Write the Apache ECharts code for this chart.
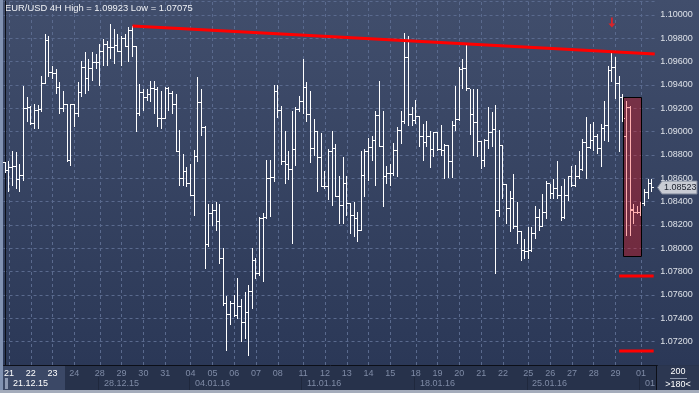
<!DOCTYPE html>
<html><head><meta charset="utf-8">
<script src="https://cdn.jsdelivr.net/npm/echarts@6/dist/echarts.min.js"></script>
<style>html,body{margin:0;padding:0;background:#2e3a56;}#c{width:699px;height:393px;}
#err{position:absolute;left:20px;top:40px;color:#ff0;font:11px monospace;white-space:pre-wrap;max-width:600px;}</style>
</head><body><div id="c"></div><div id="err"></div>
<script>
window.onerror = function (m, s, l, c, e) { document.getElementById('err').textContent += m + ' @' + l + ':' + c + '\n'; };
</script>
<script>
// ---- data: EUR/USD 4H bars (index 0 = Sunday 20.12.15 bar) ----
const openP = [
1.08737,1.08666,1.08695,1.08700,1.08586,1.08623,1.09200,1.09209,1.09066,1.09180,
1.09189,1.09415,1.09780,1.09509,1.09500,1.09380,1.09195,1.09229,1.08752,1.09229,
1.09157,1.09332,1.09552,1.09457,1.09543,1.09595,1.09590,1.09686,1.09743,1.09723,
1.09720,1.09737,1.09686,1.09800,1.09732,1.09866,1.09732,1.09152,1.09337,1.09295,
1.09315,1.09366,1.09360,1.09115,1.09110,1.09366,1.09329,1.09229,1.08832,1.08595,
1.08657,1.08557,1.08455,1.08789,1.09246,1.09037,1.08037,1.08300,1.08323,1.08232,
1.07909,1.07523,1.07437,1.07523,1.07423,1.07503,1.07366,1.07446,1.07632,1.07895,
1.07786,1.08252,1.08266,1.08595,1.08603,1.09346,1.09180,1.08743,1.08720,1.08672,
1.08843,1.09189,1.09260,1.09380,1.09143,1.08852,1.09000,1.08780,1.08526,1.08532,
1.08829,1.08852,1.08440,1.08366,1.08552,1.08380,1.08280,1.08252,1.08157,1.08623,
1.08829,1.08866,1.08923,1.09137,1.08870,1.08615,1.08643,1.08640,1.08837,1.09009,
1.09089,1.09637,1.09143,1.09095,1.09129,1.08957,1.08909,1.08957,1.08846,1.08989,
1.08843,1.08840,1.08880,1.08746,1.09052,1.09103,1.09537,1.09540,1.09366,1.09146,
1.09075,1.08917,1.08752,1.08923,1.08989,1.09017,1.08323,1.08880,1.08546,1.08343,
1.08423,1.08189,1.08146,1.07980,1.07975,1.07980,1.08123,1.08266,1.08189,1.08309,
1.08552,1.08466,1.08515,1.08457,1.08266,1.08457,1.08617,1.08537,1.08617,1.08672,
1.08903,1.08866,1.08923,1.08960,1.08852,1.09029,1.09057,1.09523,1.09552,1.09409,
1.09297,1.08955,1.09209,1.08323,1.08309,1.08303,1.08380,1.08475,1.08552];
const highP = [
1.08743,1.08752,1.08837,1.08823,1.08723,1.09395,1.09295,1.09217,1.09237,1.09229,
1.09480,1.09837,1.09823,1.09566,1.09537,1.09423,1.09352,1.09237,1.09237,1.09237,
1.09423,1.09609,1.09680,1.09623,1.09680,1.09666,1.09752,1.09795,1.09780,1.09923,
1.09880,1.09837,1.09823,1.09837,1.09895,1.09909,1.09737,1.09409,1.09366,1.09366,
1.09437,1.09437,1.09380,1.09352,1.09380,1.09380,1.09352,1.09323,1.09015,1.08809,
1.08695,1.08723,1.08846,1.09466,1.09366,1.09052,1.08380,1.08380,1.08395,1.08380,
1.08000,1.07595,1.07546,1.07603,1.07746,1.07566,1.07623,1.07686,1.08000,1.07915,
1.08266,1.08303,1.08760,1.08760,1.09400,1.09400,1.09223,1.09009,1.08837,1.09180,
1.09209,1.09303,1.09623,1.09423,1.09346,1.09109,1.09009,1.08989,1.08666,1.08852,
1.09003,1.08895,1.08623,1.08780,1.08623,1.08385,1.08395,1.08309,1.08837,1.08852,
1.08943,1.08966,1.09180,1.09432,1.09175,1.08709,1.08723,1.08900,1.09043,1.09175,
1.09843,1.09823,1.09209,1.09272,1.09135,1.09066,1.09095,1.09009,1.08995,1.08995,
1.09057,1.08895,1.08885,1.09095,1.09395,1.09557,1.09623,1.09752,1.09370,1.09366,
1.09366,1.08920,1.08937,1.09209,1.09166,1.09229,1.09017,1.08885,1.08550,1.08495,
1.08637,1.08395,1.08152,1.08080,1.08180,1.08180,1.08366,1.08337,1.08466,1.08580,
1.08555,1.08595,1.08752,1.08537,1.08595,1.08623,1.08709,1.08715,1.08837,1.08937,
1.09123,1.09066,1.09080,1.08980,1.09066,1.09266,1.09566,1.09680,1.09640,1.09477,
1.09323,1.09263,1.09220,1.08380,1.08366,1.08395,1.08509,1.08595,1.08595];
const lowP = [
1.08646,1.08486,1.08537,1.08509,1.08486,1.08580,1.09080,1.09057,1.09023,1.09023,
1.09166,1.09409,1.09466,1.09452,1.09323,1.09152,1.09166,1.08737,1.08709,1.09037,
1.09123,1.09295,1.09323,1.09352,1.09437,1.09537,1.09395,1.09566,1.09566,1.09623,
1.09580,1.09680,1.09566,1.09723,1.09595,1.09637,1.08995,1.09137,1.09180,1.09266,
1.09252,1.09152,1.09037,1.09023,1.09105,1.09180,1.09152,1.08823,1.08537,1.08537,
1.08523,1.08452,1.08275,1.08737,1.08966,1.07823,1.08009,1.08195,1.08152,1.07866,
1.07509,1.07123,1.07346,1.07409,1.07395,1.07200,1.07223,1.07075,1.07480,1.07737,
1.07766,1.07715,1.08252,1.08266,1.08566,1.09115,1.08715,1.08552,1.08589,1.08037,
1.08709,1.09166,1.09152,1.09080,1.08732,1.08795,1.08480,1.08523,1.08509,1.08415,
1.08366,1.08437,1.08209,1.08209,1.08280,1.08123,1.08095,1.08052,1.08152,1.08437,
1.08580,1.08752,1.08537,1.08866,1.08352,1.08552,1.08537,1.08623,1.08609,1.08895,
1.09066,1.09052,1.09052,1.09066,1.08866,1.08746,1.08866,1.08689,1.08780,1.08837,
1.08795,1.08595,1.08603,1.08603,1.09009,1.09095,1.09366,1.09352,1.08972,1.08795,
1.08780,1.08680,1.08695,1.08852,1.08872,1.07780,1.08266,1.08423,1.08209,1.08137,
1.08166,1.08037,1.07895,1.07909,1.07909,1.07966,1.08080,1.08152,1.08180,1.08252,
1.08423,1.08423,1.08423,1.08237,1.08252,1.08409,1.08523,1.08523,1.08595,1.08666,
1.08595,1.08852,1.08837,1.08809,1.08695,1.08923,1.08909,1.09423,1.09280,1.08826,
1.09080,1.08109,1.08106,1.08209,1.08292,1.08280,1.08363,1.08423,1.08480];
const closeP = [
1.08666,1.08695,1.08700,1.08586,1.08623,1.09200,1.09209,1.09066,1.09180,1.09189,
1.09415,1.09780,1.09509,1.09500,1.09380,1.09195,1.09229,1.08752,1.09229,1.09157,
1.09332,1.09552,1.09457,1.09543,1.09595,1.09590,1.09686,1.09743,1.09723,1.09720,
1.09737,1.09686,1.09800,1.09732,1.09866,1.09732,1.09152,1.09337,1.09295,1.09315,
1.09366,1.09360,1.09115,1.09110,1.09366,1.09329,1.09229,1.08832,1.08595,1.08657,
1.08557,1.08455,1.08789,1.09246,1.09037,1.08037,1.08300,1.08323,1.08232,1.07909,
1.07523,1.07437,1.07523,1.07423,1.07503,1.07366,1.07446,1.07632,1.07895,1.07786,
1.08252,1.08266,1.08595,1.08603,1.09346,1.09180,1.08743,1.08720,1.08672,1.08843,
1.09189,1.09260,1.09380,1.09143,1.08852,1.09000,1.08780,1.08526,1.08532,1.08829,
1.08852,1.08440,1.08366,1.08552,1.08380,1.08280,1.08252,1.08157,1.08623,1.08829,
1.08866,1.08923,1.09137,1.08870,1.08615,1.08643,1.08640,1.08837,1.09009,1.09089,
1.09637,1.09143,1.09095,1.09129,1.08957,1.08909,1.08957,1.08846,1.08989,1.08843,
1.08840,1.08880,1.08746,1.09052,1.09103,1.09537,1.09540,1.09366,1.09146,1.09075,
1.08917,1.08752,1.08923,1.08989,1.09017,1.08323,1.08880,1.08546,1.08343,1.08423,
1.08189,1.08146,1.07980,1.07975,1.07980,1.08123,1.08266,1.08189,1.08309,1.08552,
1.08466,1.08515,1.08457,1.08266,1.08457,1.08617,1.08537,1.08617,1.08672,1.08903,
1.08866,1.08923,1.08960,1.08852,1.09029,1.09057,1.09523,1.09552,1.09409,1.09297,
1.09115,1.09209,1.08337,1.08309,1.08303,1.08380,1.08475,1.08552,1.08523];

const barSlots = 180;          // visible bar slots (">180<")
const loadedBars = 200;        // "200"
const dayStart = [1,7,13,19,26,32,38,44,51,57,63,69,75,82,88,94,100,106,113,119,125,131,137,144,150,156,162,168,175];
const dayName  = ['21','22','23','24','28','29','30','31','04','05','06','07','08','11','12','13','14','15','18','19','20','21','22','25','26','27','28','29','01'];
const weekStart = [1,26,51,82,113,144,175];
const weekName  = ['21.12.15','28.12.15','04.01.16','11.01.16','18.01.16','25.01.16','01'];
const brightLabelsBefore = 17;

// annotations (bar index, price)
const trendLine = [[35, 1.09906], [178.8, 1.09666]];
const targetLevels = [1.07763, 1.07120];
const targetSpan = [169, 178.5];
const zoneBox = [[170.1, 1.09297], [175.1, 1.07934]];
const signalArrow = [167, 1.09936];
const yTicks = {min: 1.070, max: 1.1012, step: 0.002};

// ---- build ----
const FONT = '"Liberation Sans", Arial, sans-serif';
const GRAY = '#7f8ba6';
const GRIDC = '#5a6a8e';
const bars = openP.map((o, k) => [k, o, highP[k], lowP[k], closeP[k]]);
const dayCats = [];
for (let k = 0; k < barSlots; k++) {
  const di = dayStart.indexOf(k);
  dayCats.push(di >= 0 ? {value: dayName[di], textStyle: {color: k < brightLabelsBefore ? '#ffffff' : GRAY}} : '');
}
const hiVal = Math.max(...highP), loVal = Math.min(...lowP);
const titleText = 'EUR/USD 4H High = ' + hiVal.toFixed(5) + ' Low = ' + loVal.toFixed(5);

function renderOHLC(params, api) {
  const k = api.value(0);
  const pO = api.coord([k, api.value(1)]);
  const pH = api.coord([k, api.value(2)]);
  const pL = api.coord([k, api.value(3)]);
  const pC = api.coord([k, api.value(4)]);
  const x = Math.round(pH[0] - 0.5);
  const yH = Math.round(pH[1]), yL = Math.round(pL[1]);
  const yO = Math.round(pO[1] - 0.5), yC = Math.round(pC[1] - 0.5);
  const st = {fill: '#ffffff'};
  return {type: 'group', children: [
    {type: 'rect', shape: {x: x, y: yH, width: 1, height: Math.max(1, yL - yH)}, style: st},
    {type: 'rect', shape: {x: x - 2, y: yO, width: 2, height: 1}, style: st},
    {type: 'rect', shape: {x: x + 1, y: yC, width: 2, height: 1}, style: st}
  ]};
}
function renderBox(params, api) {
  const a = api.coord([api.value(0), api.value(1)]);
  const b = api.coord([api.value(2), api.value(3)]);
  const x = Math.round(a[0]) + 0.5, y = Math.round(a[1]) + 0.5;
  const w = Math.round(b[0]) - Math.round(a[0]), h = Math.round(b[1]) - Math.round(a[1]);
  return {type: 'rect', shape: {x: x, y: y, width: w, height: h},
          style: {fill: 'rgba(255,0,0,0.31)', stroke: '#000000', lineWidth: 1}};
}

const chart = echarts.init(document.getElementById('c'), null, {renderer: 'canvas', devicePixelRatio: 1});
const gridDash = {color: GRIDC, width: 1, type: [3, 3]};
const bg = new echarts.graphic.LinearGradient(0, 0, 0, 1, [
  {offset: 0, color: '#414e6c'}, {offset: 0.928, color: '#2b3857'},
  {offset: 0.9288, color: '#27324b'}, {offset: 1, color: '#27324b'}]);

chart.setOption({
  animation: false,
  backgroundColor: bg,
  textStyle: {fontFamily: FONT},
  grid: {left: 3.55, right: 41.7, top: 1, bottom: 28, containLabel: false, outerBoundsMode: 'none'},
  xAxis: [
    {type: 'category', data: dayCats, boundaryGap: true, position: 'bottom',
     axisLine: {show: true, lineStyle: {color: '#0c0f18', width: 1}},
     axisTick: {show: false},
     axisLabel: {interval: 0, fontSize: 9, fontFamily: FONT, margin: 4, color: GRAY},
     splitLine: {show: false}},
    {type: 'value', min: -0.5, max: barSlots - 0.5, show: false}
  ],
  yAxis: {type: 'value', position: 'right', min: yTicks.min, max: yTicks.max, interval: yTicks.step,
    axisLine: {show: true, lineStyle: {color: '#0c0f18', width: 1}},
    axisTick: {show: false},
    axisLabel: {color: '#dde1e8', fontSize: 9, fontFamily: FONT, margin: 3, showMinLabel: false, showMaxLabel: false,
      formatter: (v) => v.toFixed(5)},
    splitLine: {show: true, lineStyle: gridDash}},
  series: [
    {type: 'line', name: 'days', xAxisIndex: 0, yAxisIndex: 0, z: 0, zlevel: 0, data: [], silent: true,
     markLine: {z: 0, silent: true, symbol: ['none', 'none'], animation: false, label: {show: false},
       lineStyle: {color: GRIDC, width: 1, type: [3, 3]},
       emphasis: {disabled: true},
       data: dayStart.map((k) => ({xAxis: k}))}},
    {type: 'custom', name: 'EURUSD', xAxisIndex: 0, yAxisIndex: 0, z: 4,
     renderItem: renderOHLC, data: bars, encode: {x: 0, y: [1, 2, 3, 4]}},
    {type: 'custom', name: 'zone', xAxisIndex: 1, yAxisIndex: 0, z: 6,
     renderItem: renderBox, data: [[zoneBox[0][0], zoneBox[0][1], zoneBox[1][0], zoneBox[1][1]]],
     encode: {x: [0, 2], y: [1, 3]}},
    {type: 'line', name: 'trend', xAxisIndex: 1, yAxisIndex: 0, z: 7, data: trendLine,
     symbol: 'none', lineStyle: {color: '#ff0000', width: 3}},
    ...targetLevels.map((lv) => ({type: 'line', xAxisIndex: 1, yAxisIndex: 0, z: 7,
      data: [[targetSpan[0], lv], [targetSpan[1], lv]], symbol: 'none', lineStyle: {color: '#ff0000', width: 3}})),
    {type: 'scatter', name: 'signal', xAxisIndex: 1, yAxisIndex: 0, z: 8, data: [signalArrow],
     symbol: 'path://M3,0 L5,0 L5,6 L8,6 L4,10 L0,6 L3,6 Z', symbolSize: [7, 10],
     itemStyle: {color: '#ff1a1a'}}
  ]
});

// current price tag, week labels row and chrome
const lastClose = closeP[closeP.length - 1];
const yp = Math.round(chart.convertToPixel({yAxisIndex: 0}, lastClose)) + 0.5;
const weekTexts = weekStart.map((k, i) => {
  const x = chart.convertToPixel({xAxisIndex: 1}, k);
  return {type: 'text', id: 'wk' + i, silent: true, x: Math.round(x) + 4, y: 383.5,
    style: {text: weekName[i], fill: k < brightLabelsBefore ? '#ffffff' : GRAY, font: '9px ' + FONT, align: 'left', verticalAlign: 'middle'}};
});
const weekSeps = weekStart.slice(1).map((k, i) => {
  const x = Math.round(chart.convertToPixel({xAxisIndex: 1}, k - 0.5)) + 0.5;
  return {type: 'line', id: 'ws' + i, silent: true, shape: {x1: x, y1: 377, x2: x, y2: 390}, style: {stroke: '#1f283d', lineWidth: 1}};
});
chart.setOption({graphic: [
  {type: 'rect', id: 'hl', z: -5, silent: true, shape: {x: 3, y: 365.5, width: 62, height: 24.5}, style: {fill: 'rgba(120,140,185,0.25)'}},
  {type: 'rect', id: 'rp', z: -5, silent: true, shape: {x: 657, y: 365.5, width: 42, height: 24.5}, style: {fill: '#2c3751'}},
  {type: 'rect', id: 'sb', silent: true, shape: {x: 5, y: 378, width: 3, height: 11}, style: {fill: '#8d99b3'}},
  {type: 'rect', id: 'ls', silent: true, shape: {x: 0, y: 0, width: 3, height: 393}, style: {fill: '#8192b2'}},
  {type: 'rect', id: 'bs', silent: true, shape: {x: 0, y: 390, width: 699, height: 3}, style: {fill: '#a4acbb'}},
  {type: 'line', id: 'sep', silent: true, shape: {x1: 656.5, y1: 365, x2: 656.5, y2: 390}, style: {stroke: '#0c0f18', lineWidth: 1}},
  {type: 'text', id: 'title', silent: true, x: 5, y: 8,
   style: {text: titleText, fill: '#f0f2f6', font: '9.4px ' + FONT, align: 'left', verticalAlign: 'middle'}},
  {type: 'text', id: 'n1', silent: true, x: 678, y: 372,
   style: {text: String(loadedBars), fill: '#ffffff', font: '9px ' + FONT, align: 'center', verticalAlign: 'middle'}},
  {type: 'line', id: 'nl', silent: true, shape: {x1: 670, y1: 378.5, x2: 687, y2: 378.5}, style: {stroke: '#8e98ac', lineWidth: 1}},
  {type: 'text', id: 'n2', silent: true, x: 678, y: 384.5,
   style: {text: '>' + barSlots + '<', fill: '#ffffff', font: '9px ' + FONT, align: 'center', verticalAlign: 'middle'}},
  {type: 'polygon', id: 'tag', silent: true, shape: {points: [[657.5, yp], [662, yp - 6.5], [697, yp - 6.5], [697, yp + 6.5], [662, yp + 6.5]]},
   style: {fill: '#c9ccd4', stroke: '#7d8598', lineWidth: 1}},
  {type: 'text', id: 'tagt', silent: true, x: 664, y: yp,
   style: {text: lastClose.toFixed(5), fill: '#1a1f2c', font: '9px ' + FONT, align: 'left', verticalAlign: 'middle'}},
  ...weekSeps, ...weekTexts
]});
</script>
</body></html>
